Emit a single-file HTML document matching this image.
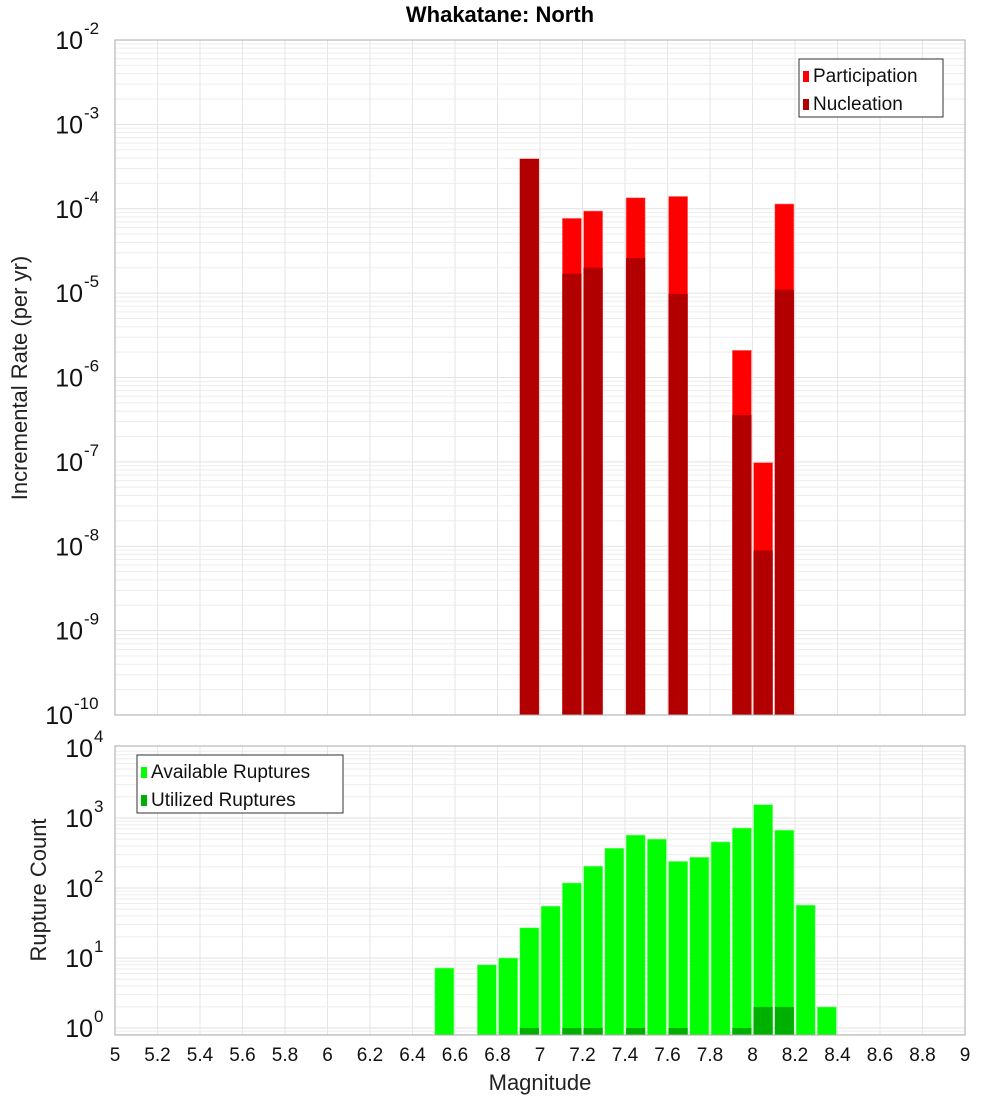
<!DOCTYPE html>
<html><head><meta charset="utf-8"><style>
body{margin:0;background:#fff;}
svg{display:block;font-family:"Liberation Sans","DejaVu Sans",sans-serif;}
</style></head><body>
<svg id="c" width="1000" height="1100" xmlns="http://www.w3.org/2000/svg"></svg>
<script>
const binCenters=[6.95,7.15,7.25,7.45,7.65,7.95,8.05,8.15];
const participation=[3.9e-4,7.7e-5,9.4e-5,1.35e-4,1.4e-4,2.1e-6,9.8e-8,1.14e-4];
const nucleation=[3.9e-4,1.7e-5,2.0e-5,2.6e-5,9.8e-6,3.6e-7,8.9e-9,1.1e-5];
const countCenters=[6.55,6.75,6.85,6.95,7.05,7.15,7.25,7.35,7.45,7.55,7.65,7.75,7.85,7.95,8.05,8.15,8.25,8.35];
const available=[7.2,8,10,27,55,118,205,370,570,500,240,275,455,720,1550,670,57,2];
const utilCenters=[6.95,7.15,7.25,7.45,7.65,7.95,8.05,8.15];
const utilized=[1,1,1,1,1,1,2,2];
const xTicks=[5,5.2,5.4,5.6,5.8,6,6.2,6.4,6.6,6.8,7,7.2,7.4,7.6,7.8,8,8.2,8.4,8.6,8.8,9];
const topExps=[-2,-3,-4,-5,-6,-7,-8,-9,-10];
const botExps=[4,3,2,1,0];

const NS='http://www.w3.org/2000/svg';
const svg=document.getElementById('c');
function el(t,a,p){const e=document.createElementNS(NS,t);for(const k in a)e.setAttribute(k,a[k]);(p||svg).appendChild(e);return e;}
const X0=115,X1=965;
const xs=m=>X0+(m-5)/4*(X1-X0);
const TY0=40,TY1=715;
const ty=v=>TY0+(-2-Math.log10(v))*(TY1-TY0)/8;
const BY0=746,BY1=1035;
const by=v=>1028-Math.log10(v)*70;
const bw=0.09*(X1-X0)/4;

function grid(y0,y1,yf,eLo,eHi,name){
  const g=el('g',{});
  
  for(let e=eLo;e<=eHi;e++)for(let k=1;k<10;k++){const y=yf(k*Math.pow(10,e));if(y<y0||y>y1)continue;
    el('line',{x1:X0,x2:X1,y1:y,y2:y,stroke:k==1?'#e2e2e2':'#ededed','stroke-width':1},g);}
  xTicks.forEach(t=>{const x=xs(t);el('line',{x1:x,x2:x,y1:y0,y2:y1,stroke:'#e6e6e6','stroke-width':1},g);});
}
grid(TY0,TY1,ty,-10,-3,'top-grid');
grid(BY0,BY1,by,-1,3,'bottom-grid');

// top bars
binCenters.forEach((m,i)=>{
  const x=xs(m)-bw/2;
  const r=el('rect',{x:x,y:ty(participation[i]),width:bw,height:TY1-ty(participation[i]),fill:'#ff0000',stroke:'#ff9090','stroke-width':0.6});
  
  const n=el('rect',{x:x,y:ty(nucleation[i]),width:bw,height:TY1-ty(nucleation[i]),fill:'#b20000'});
  
});
// bottom bars
countCenters.forEach((m,i)=>{
  const r=el('rect',{x:xs(m)-bw/2,y:by(available[i]),width:bw,height:BY1-by(available[i]),fill:'#00ff00',stroke:'#90ff90','stroke-width':0.6});
  
});
utilCenters.forEach((m,i)=>{
  const r=el('rect',{x:xs(m)-bw/2,y:by(utilized[i]),width:bw,height:BY1-by(utilized[i]),fill:'#00b000'});
  
});

// frames
const f1=el('rect',{x:X0,y:TY0,width:X1-X0,height:TY1-TY0,fill:'none',stroke:'#aaa'});

const f2=el('rect',{x:X0,y:BY0,width:X1-X0,height:BY1-BY0,fill:'none',stroke:'#aaa'});


// y tick labels
function ylab(e,y,name){
  const t=el('text',{x:103,y:y+9,'text-anchor':'end','font-size':25,fill:'#111'});
  
  t.textContent='10';
  const s=el('tspan',{dy:-15,'font-size':17});s.textContent=String(e);t.appendChild(s);
  t.setAttribute('x',String(103-(String(e).length*10)));
  t.setAttribute('text-anchor','end');
  s.setAttribute('x',String(104-(String(e).length*10)));s.setAttribute('text-anchor','start');
}
topExps.forEach(e=>ylab(e,ty(Math.pow(10,e)),'top-y-tick-label'));
botExps.forEach(e=>ylab(e,by(Math.pow(10,e)),'bottom-y-tick-label'));

// x tick labels
xTicks.forEach(t=>{
  const tx=el('text',{x:xs(t),y:1061,'text-anchor':'middle','font-size':19,fill:'#111'});
  
  tx.textContent=String(Math.round(t*10)/10);
});

// titles
function txt(s,a,name){const t=el('text',a);t.textContent=s;return t;}
txt('Whakatane: North',{x:500,y:22,'text-anchor':'middle','font-size':22,'font-weight':'bold',fill:'#000'},'chart-title');
txt('Magnitude',{x:540,y:1090,'text-anchor':'middle','font-size':22,fill:'#222'},'x-axis-title');
txt('Incremental Rate (per yr)',{x:0,y:0,'text-anchor':'middle','font-size':22,fill:'#222',transform:'translate(27,378) rotate(-90)'},'top-y-axis-title');
txt('Rupture Count',{x:0,y:0,'text-anchor':'middle','font-size':22,fill:'#222',transform:'translate(46,890) rotate(-90)'},'bottom-y-axis-title');

// legends
function legend(x,y,w,items,name){
  const g=el('g',{});
  el('rect',{x:x,y:y,width:w,height:58,fill:'#fff',stroke:'#333'},g);
  items.forEach((it,i)=>{
    el('rect',{x:x+4,y:y+12+i*28,width:6,height:11,fill:it[1]},g);
    const t=el('text',{x:x+14,y:y+23+i*28,'font-size':19,fill:'#111'},g);t.textContent=it[0];
  });
}
legend(799,59,144,[['Participation','#ff0000'],['Nucleation','#b20000']],'top-legend');
legend(137,755,206,[['Available Ruptures','#00ff00'],['Utilized Ruptures','#00b000']],'bottom-legend');
</script>
</body></html>
